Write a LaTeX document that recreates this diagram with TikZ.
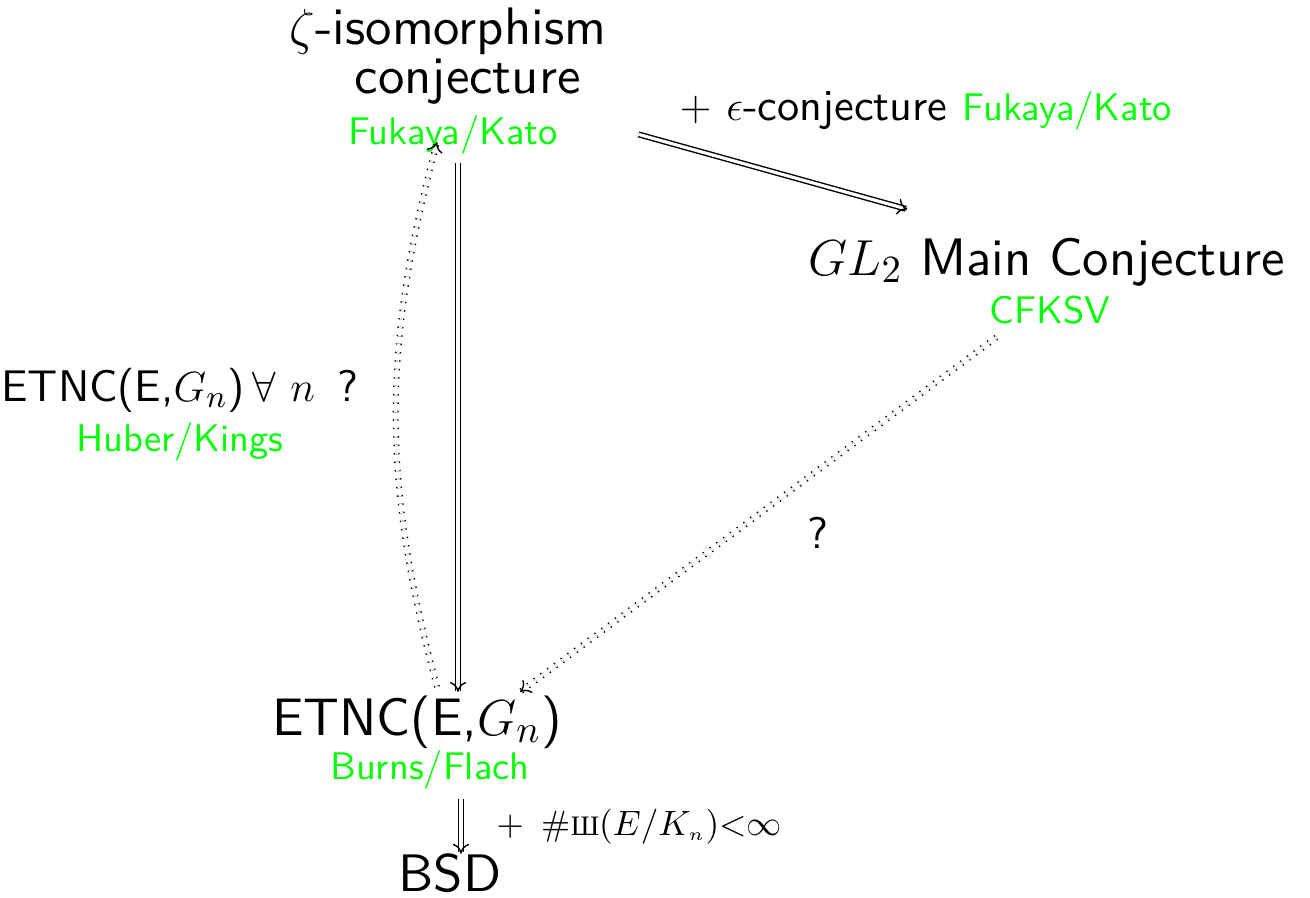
\documentclass[11pt,tikz,border=0pt]{standalone}
\usepackage{amsmath,amssymb}
\usepackage{fontspec}
\setsansfont{lmsans10-regular.otf}
\newfontfamily\shafont{Liberation Serif}
\usetikzlibrary{arrows.meta}

\begin{document}
\begin{tikzpicture}[
  x=0.01cm,
  y=-0.01cm,
  >={To[line width=0.4pt 0 0, length=2.8pt 0 0, width=4.6pt 0 0]},
  conj/.style={font=\sffamily\fontsize{15}{18}\selectfont, align=center},
  who/.style={font=\sffamily\normalsize, text=green},
  note/.style={font=\sffamily\fontsize{12.6}{14.3}\selectfont, align=center},
  imp/.style={double, double distance=0.9pt, ->},
  guess/.style={double, double distance=0.9pt, dotted, line cap=butt, ->}
]
  \useasboundingbox (0,0) rectangle (1310,897);

  \node[conj] (zeta) at (448,56) {$\zeta$-isomorphism\\[-4pt]\hspace*{.75em}conjecture};
  \node[who, anchor=base] (zetaref) at (453,144) {Fukaya/Kato};
  \node[conj, anchor=base] (glmain) at (1047,275) {$GL_2$ Main Conjecture};
  \node[who, anchor=base] (glref) at (1050,323) {CFKSV};
  \node[conj, anchor=base] (etnc) at (417,735) {ETNC(E,$G_n$)};
  \node[who, anchor=base] (etncref) at (430,779) {Burns/Flach};
  \node[conj, anchor=base] (bsd) at (450,891) {BSD};

  \node[note, anchor=base west] (epsnote) at (666,120)
    {$+$ $\epsilon$-conjecture {\normalsize\color{green}Fukaya/Kato}};

  \draw[imp] ([xshift=0.05cm,yshift=0.04cm]zetaref.south) -- ([xshift=0.05cm,yshift=-0.1cm]zetaref.south |- etnc.north);
  \draw[imp] ([xshift=0.67cm]zetaref.east) -- ([xshift=1.12cm,yshift=0.15cm]glmain.north west);
  \draw[imp] ([xshift=0.11cm,yshift=0.03cm]bsd.north |- etncref.south) -- ([xshift=0.11cm,yshift=-0.14cm]bsd.north)
    node[midway, right=0.22cm, font=\small] (shanote)
      {$+$\ \,$\#${\shafont\scriptsize Ш}$(E/K_{\scriptscriptstyle n})$$<$$\infty$};

  \draw[guess] ([xshift=0.2cm]glref.south west) -- ([xshift=1.03cm,yshift=-0.1cm]etnc.north)
    node[note, pos=0.55, right=0.6cm] (qnote) {?};
  \draw[guess] ([xshift=0.2cm,yshift=-0.05cm]etnc.north) to[bend left=15]
    node[note, midway, left=0.24cm] (allnote)
      {ETNC(E,$G_n$)\,$\forall\ n$ \,?\\{\normalsize\color{green}Huber/Kings}}
    ([xshift=-0.16cm,yshift=0.25cm]zetaref.south);
\end{tikzpicture}
\end{document}
